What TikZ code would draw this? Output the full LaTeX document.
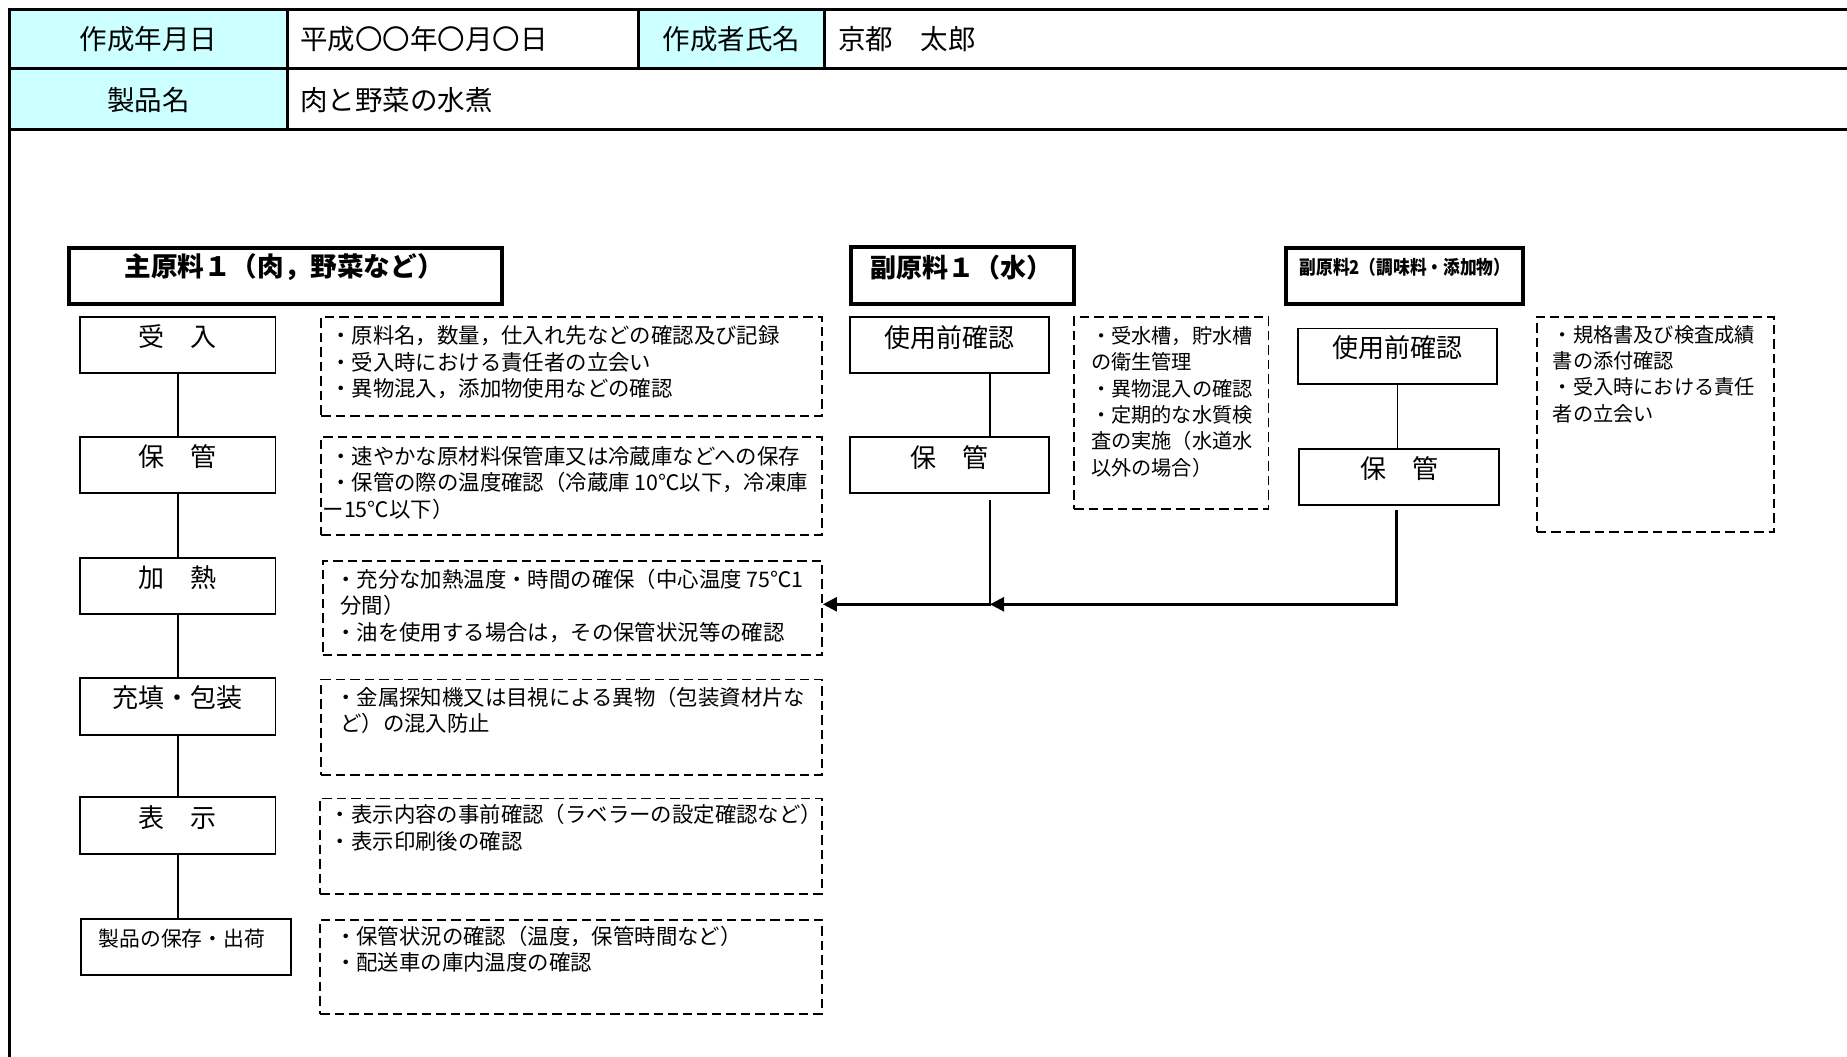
\documentclass[tikz,border=0pt]{standalone}
\usepackage{fontspec}
\setmainfont{Noto Sans CJK JP}
\usetikzlibrary{arrows.meta}
\definecolor{hdr}{RGB}{204,255,255}
\begin{document}
\begin{tikzpicture}[x=1pt,y=-1pt,
  hline/.style={line width=3pt},
  pbox/.style={draw, line width=1.9pt, anchor=north west, inner sep=0pt},
  tbox/.style={draw, line width=4pt, anchor=north west, inner sep=0pt},
  dbox/.style={draw, line width=1.9pt, dash pattern=on 9.5pt off 5pt, anchor=north west, inner sep=0pt},
  hd/.style={font=\fontsize{27.5}{32}\selectfont, inner sep=0pt},
  lbl/.style={font=\fontsize{26}{30}\selectfont, inner sep=0pt},
  note/.style={font=\fontsize{21.4}{26.5}\selectfont, align=left, anchor=north west, inner sep=0pt},
  snote/.style={font=\fontsize{20.2}{26.3}\selectfont, align=left, anchor=north west, inner sep=0pt},
  link/.style={line width=1.9pt},
  flow/.style={line width=2.5pt, -{Triangle[length=14pt,width=14pt]}}
]
\useasboundingbox (0,0) rectangle (1847,1057);

% header table
\fill[hdr] (9.4,9.4) rectangle (287.4,129.6);
\fill[hdr] (638.4,9.4) rectangle (824.6,68.3);
\draw[hline] (1847,9.4) -- (9.4,9.4) -- (9.4,1057);
\draw[hline] (9.4,68.3) -- (1847,68.3);
\draw[hline] (9.4,129.6) -- (1847,129.6);
\draw[hline] (287.4,9.4) -- (287.4,129.6);
\draw[hline] (638.4,9.4) -- (638.4,68.3);
\draw[hline] (824.6,9.4) -- (824.6,68.3);
\node[hd] (h1) at (148.4,38.9) {作成年月日};
\node[hd, anchor=west] (h2) at (300,38.9) {平成〇〇年〇月〇日};
\node[hd] (h3) at (731.5,38.9) {作成者氏名};
\node[hd, anchor=west] (h4) at (838,38.9) {京都　太郎};
\node[hd] (h5) at (148.4,100.5) {製品名};
\node[hd, anchor=west] (h6) at (300,100.5) {肉と野菜の水煮};

% titles
\node[tbox, minimum width=432.4pt, minimum height=55.4pt] (T1) at (67.1,246.2) {};
\node[font=\fontsize{26.6}{30}\selectfont\bfseries, inner sep=0pt] (t1) at (284,267.4) {主原料１（肉，野菜など）};
\node[tbox, minimum width=222.7pt, minimum height=56.6pt] (T2) at (849.3,245) {};
\node[font=\fontsize{26}{30}\selectfont\bfseries, inner sep=0pt] (t2) at (961.5,267.4) {副原料１（水）};
\node[tbox, minimum width=236.8pt, minimum height=55.4pt] (T3) at (1284,246.2) {};
\node[font=\fontsize{19}{24}\selectfont\bfseries, inner sep=0pt] (t3) at (1405,267.4) {\scalebox{0.88}[1]{副原料2（調味料・添加物）}};

% left column
\node[pbox, minimum width=195.6pt, minimum height=56.5pt] (b1) at (78.9,315.7) {};
\node[pbox, minimum width=195.6pt, minimum height=56.5pt] (b2) at (78.9,435.9) {};
\node[pbox, minimum width=195.6pt, minimum height=55.4pt] (b3) at (78.9,557.2) {};
\node[pbox, minimum width=195.6pt, minimum height=56.5pt] (b4) at (78.9,677.4) {};
\node[pbox, minimum width=195.6pt, minimum height=56.6pt] (b5) at (78.9,796.3) {};
\node[pbox, minimum width=209.7pt, minimum height=56.6pt] (b6) at (80.1,917.6) {};
\node[lbl] (l1) at ([yshift=-21pt]b1.north) {受　入};
\node[lbl] (l2) at ([yshift=-21pt]b2.north) {保　管};
\node[lbl] (l3) at ([yshift=-20pt]b3.north) {加　熱};
\node[lbl] (l4) at ([yshift=-20pt]b4.north) {充填・包装};
\node[lbl] (l5) at ([yshift=-21pt]b5.north) {表　示};
\node[font=\fontsize{20.8}{26}\selectfont, inner sep=0pt] (l6) at ([xshift=-4pt,yshift=-21pt]b6.north) {製品の保存・出荷};
\draw[link] (b1.south) -- (b2.north);
\draw[link] (b2.south) -- (b3.north);
\draw[link] (b3.south) -- (b4.north);
\draw[link] (b4.south) -- (b5.north);
\draw[link] (b5.south) -- (b5.south |- b6.north);

% left dashed notes
\node[dbox, minimum width=500.6pt, minimum height=99pt] (d1) at (320.4,315.7) {};
\node[dbox, minimum width=500.6pt, minimum height=97.7pt] (d2) at (320.4,435.9) {};
\node[dbox, minimum width=499.4pt, minimum height=94.2pt] (d3) at (321.6,559.6) {};
\node[dbox, minimum width=500.6pt, minimum height=95.5pt] (d4) at (320.4,678.5) {};
\node[dbox, minimum width=501.8pt, minimum height=95.4pt] (d5) at (319.2,797.5) {};
\node[dbox, minimum width=501.8pt, minimum height=94.2pt] (d6) at (319.2,918.8) {};
\node[note] (n1) at ([xshift=9.6pt,yshift=-10pt]d1.north west) {・原料名，数量，仕入れ先などの確認及び記録\\・受入時における責任者の立会い\\・異物混入，添加物使用などの確認};
\node[note] (n2) at ([xshift=9.6pt,yshift=-10pt]d2.north west) {・速やかな原材料保管庫又は冷蔵庫などへの保存\\・保管の際の温度確認（冷蔵庫 10℃以下，冷凍庫\\\hspace*{-7.5pt}ー15℃以下）};
\node[note] (n3) at ([xshift=13.4pt,yshift=-9pt]d3.north west) {・充分な加熱温度・時間の確保（中心温度 75℃1\\\hspace*{5pt}分間）\\・油を使用する場合は，その保管状況等の確認};
\node[note] (n4) at ([xshift=14.6pt,yshift=-8pt]d4.north west) {・金属探知機又は目視による異物（包装資材片な\\\hspace*{5pt}ど）の混入防止};
\node[note] (n5) at ([xshift=10.5pt,yshift=-6.7pt]d5.north west) {・表示内容の事前確認（ラベラーの設定確認など）\\・表示印刷後の確認};
\node[note] (n6) at ([xshift=15.6pt,yshift=-6.7pt]d6.north west) {・保管状況の確認（温度，保管時間など）\\・配送車の庫内温度の確認};

% middle column
\node[pbox, minimum width=199.1pt, minimum height=56.5pt] (M1) at (849.3,315.7) {};
\node[pbox, minimum width=199.1pt, minimum height=56.5pt] (M2) at (849.3,435.9) {};
\node[lbl] (ml1) at ([yshift=-22pt]M1.north) {使用前確認};
\node[lbl] (ml2) at ([yshift=-22pt]M2.north) {保　管};
\coordinate (mx) at (990,0);
\draw[link] (M1.south -| mx) -- (M2.north -| mx);
\node[dbox, minimum width=194.3pt, minimum height=192pt] (DM) at (1073.2,315.7) {};
\node[snote] (nm) at ([xshift=17.6pt,yshift=-10.6pt]DM.north west) {・受水槽，貯水槽\\の衛生管理\\・異物混入の確認\\・定期的な水質検\\査の実施（水道水\\以外の場合）};

% right column
\node[pbox, minimum width=199pt, minimum height=55.4pt] (R1) at (1297,327.5) {};
\node[pbox, minimum width=200.4pt, minimum height=56.6pt] (R2) at (1298,447.6) {};
\node[lbl] (rl1) at ([yshift=-20pt]R1.north) {使用前確認};
\node[lbl] (rl2) at ([yshift=-21pt]R2.north) {保　管};
\draw[link] (R1.south) -- (R1.south |- R2.north);
\node[dbox, minimum width=236.9pt, minimum height=215.6pt] (DR) at (1536,315.7) {};
\node[snote] (nr) at ([xshift=16.6pt,yshift=-9.2pt]DR.north west) {・規格書及び検査成績\\書の添付確認\\・受入時における責任\\者の立会い};

% flow arrows
\coordinate (m2out) at (990,499.5);
\coordinate (j1) at (990,604.3);
\coordinate (r2out) at (1396.5,510);
\coordinate (j2) at (1396.5,604.3);
\draw[flow] (m2out) -- (j1) -- (d3.east |- j1);
\draw[flow] (r2out) -- (j2) -- (j1);
\end{tikzpicture}
\end{document}
